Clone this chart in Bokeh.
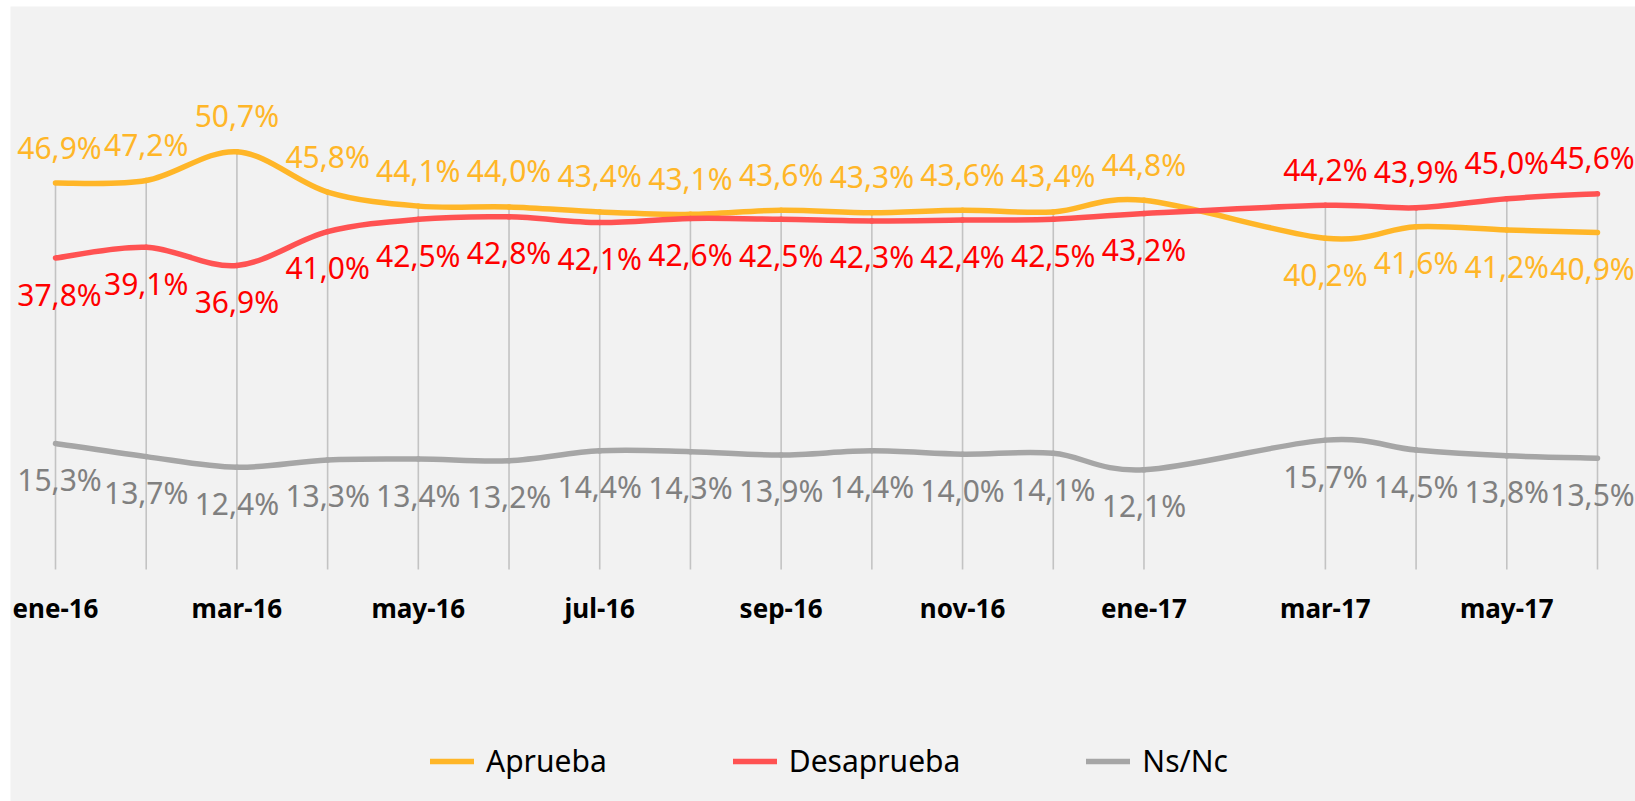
import numpy as np
from bokeh.plotting import figure
from bokeh.models import (ColumnDataSource, Range1d, FixedTicker, Legend, LegendItem)
from bokeh.core.properties import value
from bokeh.embed import file_html
from bokeh.resources import INLINE

# ---------------- data ----------------
months = ["ene-16", "feb-16", "mar-16", "abr-16", "may-16", "jun-16", "jul-16",
          "ago-16", "sep-16", "oct-16", "nov-16", "dic-16", "ene-17", "feb-17",
          "mar-17", "abr-17", "may-17", "jun-17"]
aprueba = [46.9, 47.2, 50.7, 45.8, 44.1, 44.0, 43.4, 43.1, 43.6, 43.3, 43.6, 43.4,
           44.8, None, 40.2, 41.6, 41.2, 40.9]
desaprueba = [37.8, 39.1, 36.9, 41.0, 42.5, 42.8, 42.1, 42.6, 42.5, 42.3, 42.4, 42.5,
              43.2, None, 44.2, 43.9, 45.0, 45.6]
nsnc = [15.3, 13.7, 12.4, 13.3, 13.4, 13.2, 14.4, 14.3, 13.9, 14.4, 14.0, 14.1,
        12.1, None, 15.7, 14.5, 13.8, 13.5]
series_names = ["Aprueba", "Desaprueba", "Ns/Nc"]
line_colors = ["#FFB628", "#FF5252", "#A6A6A6"]
label_colors = ["#FFB628", "#FF0000", "#808080"]

# ---------------- layout constants ----------------
W, H = 1635, 801
LEFT, TOP = 10, 6                  # white strip left / top of the chart area
FW, FH = W - LEFT, H - TOP         # frame size
PX_PER_X = (1597 - 55) / 17.0
PX_PER_Y = 8.24
X0_PX = 55 - LEFT                  # screen x of first month inside the frame
Y0_PX = 569 - TOP                  # screen y of value 0 inside the frame

x_start = -X0_PX / PX_PER_X
x_end = x_start + FW / PX_PER_X
y_end = Y0_PX / PX_PER_Y
y_start = -(FH - Y0_PX) / PX_PER_Y

p = figure(width=W, height=H, output_backend="svg", toolbar_location=None,
           x_range=Range1d(x_start, x_end), y_range=Range1d(y_start, y_end),
           y_axis_location=None, min_border=0, min_border_left=LEFT,
           min_border_top=TOP,
           background_fill_color="#F2F2F2", border_fill_color="#FFFFFF")
p.outline_line_color = None
p.grid.visible = False

xs_all = np.arange(len(months), dtype=float)


def to_arr(vals):
    return np.array([np.nan if v is None else v for v in vals], dtype=float)


A = to_arr(aprueba)
D = to_arr(desaprueba)
N = to_arr(nsnc)

# drop lines: from the highest series value down to zero
top = np.nanmax(np.vstack([A, D, N]), axis=0)
ok = ~np.isnan(top)
p.segment(x0=xs_all[ok], y0=np.zeros(ok.sum()), x1=xs_all[ok], y1=top[ok],
          line_color="#C3C3C3", line_width=1.6)


def smooth_segments(x, y):
    m = ~np.isnan(y)
    px, py = x[m], y[m]
    n = len(px)
    d = dict(x0=[], y0=[], x1=[], y1=[], cx0=[], cy0=[], cx1=[], cy1=[])
    for i in range(n - 1):
        a = max(i - 1, 0)
        b = min(i + 2, n - 1)
        d["x0"].append(px[i]); d["y0"].append(py[i])
        d["x1"].append(px[i + 1]); d["y1"].append(py[i + 1])
        d["cx0"].append(px[i] + (px[i + 1] - px[a]) / 6.0)
        d["cy0"].append(py[i] + (py[i + 1] - py[a]) / 6.0)
        d["cx1"].append(px[i + 1] - (px[b] - px[i]) / 6.0)
        d["cy1"].append(py[i + 1] - (py[b] - py[i]) / 6.0)
    return d


series = [A, D, N]
for s, col in zip(series, line_colors):
    src = ColumnDataSource(smooth_segments(xs_all, s))
    p.bezier(x0="x0", y0="y0", x1="x1", y1="y1", cx0="cx0", cy0="cy0",
             cx1="cx1", cy1="cy1", source=src, line_color=col, line_width=5.5,
             line_cap="round")


def fmt(v):
    return ("%.1f%%" % v).replace(".", ",")


OFF = 36
last = len(months) - 1
for k, (s, col) in enumerate(zip(series, label_colors)):
    m = ~np.isnan(s)
    if k == 0:
        above = A[m] > D[m]
    elif k == 1:
        above = D[m] > A[m]
    else:
        above = np.zeros(m.sum(), dtype=bool)
    xm = xs_all[m]
    src = ColumnDataSource(dict(x=xm, y=s[m], t=[fmt(v) for v in s[m]],
                                off=np.where(above, -OFF, OFF),
                                xoff=np.where(xm == last, -5, np.where(xm == 0, 4, 0))))
    p.text(x="x", y="y", text="t", y_offset="off", x_offset="xoff", source=src,
           text_font=value("Noto Sans"), text_font_size="30px",
           text_align="center", text_baseline="middle", text_color=col)

# x axis placed at zero
ax = p.xaxis[0]
ax.fixed_location = 0
ax.ticker = FixedTicker(ticks=list(range(0, len(months), 2)))
ax.major_label_overrides = {i: months[i] for i in range(len(months))}
ax.axis_line_color = None
ax.major_tick_line_color = None
ax.minor_tick_line_color = None
ax.major_label_standoff = 14
ax.major_label_text_font = "Noto Sans"
ax.major_label_text_font_style = "bold"
ax.major_label_text_font_size = "26px"
ax.major_label_text_color = "#000000"

# legend (proxy renderers hold a single missing value, so they draw nothing)
proxies = [p.line(x=[0.0], y=[np.nan], line_color=c, line_width=5.5, line_cap="round")
           for c in line_colors]
legend = Legend(items=[LegendItem(label=n, renderers=[r]) for n, r in zip(series_names, proxies)],
                orientation="horizontal", location=(420, 20), spacing=126,
                glyph_width=44, glyph_height=30, label_standoff=12,
                label_text_font="Noto Sans", label_text_font_size="30px",
                label_text_color="#000000", label_height=30,
                padding=0, margin=0, background_fill_alpha=0, border_line_alpha=0)
p.add_layout(legend)

open("out.html", "w").write(file_html(p, INLINE))
